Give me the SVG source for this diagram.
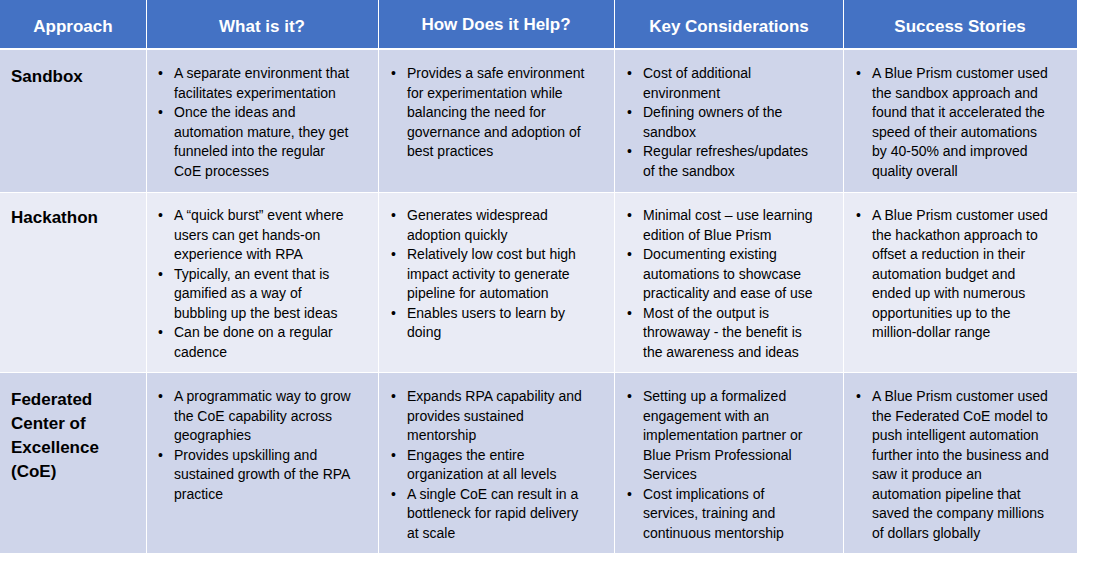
<svg xmlns="http://www.w3.org/2000/svg" width="1098" height="564" viewBox="0 0 1098 564">
<style>
.h{fill:#4472C4}.d{fill:#CFD5EA}.l{fill:#E9EBF5}
.ht{font-family:"Liberation Sans",Arial,sans-serif;font-size:17px;font-weight:bold;fill:#fff;text-anchor:middle}
.rt{font-family:"Liberation Sans",Arial,sans-serif;font-size:17px;font-weight:bold;fill:#000}
.t{font-family:"Liberation Sans",Arial,sans-serif;font-size:14px;fill:#000}
</style>
<rect width="1098" height="564" fill="#fff"/>
<g id="header">
<rect class="h" x="0" y="0" width="146" height="48"/>
<rect class="h" x="147" y="0" width="231" height="48"/>
<rect class="h" x="379" y="0" width="235" height="48"/>
<rect class="h" x="615" y="0" width="228" height="48"/>
<rect class="h" x="844" y="0" width="233" height="48"/>
<text class="ht" x="73" y="32">Approach</text>
<text class="ht" x="262" y="32">What is it?</text>
<text class="ht" x="496" y="30">How Does it Help?</text>
<text class="ht" x="729" y="32">Key Considerations</text>
<text class="ht" x="960" y="32">Success Stories</text>
</g>
<g id="row-sandbox">
<rect class="d" x="0" y="50" width="146" height="142"/>
<rect class="d" x="147" y="50" width="231" height="142"/>
<rect class="d" x="379" y="50" width="235" height="142"/>
<rect class="d" x="615" y="50" width="228" height="142"/>
<rect class="d" x="844" y="50" width="233" height="142"/>
<text class="rt" x="11" y="82">Sandbox</text>
<text class="t"><tspan x="158" y="78">•</tspan><tspan x="174" y="78">A separate environment that</tspan><tspan x="174" y="97.5">facilitates experimentation</tspan><tspan x="158" y="117">•</tspan><tspan x="174" y="117">Once the ideas and</tspan><tspan x="174" y="136.5">automation mature, they get</tspan><tspan x="174" y="156">funneled into the regular</tspan><tspan x="174" y="175.5">CoE processes</tspan></text>
<text class="t"><tspan x="391" y="78">•</tspan><tspan x="407" y="78">Provides a safe environment</tspan><tspan x="407" y="97.5">for experimentation while</tspan><tspan x="407" y="117">balancing the need for</tspan><tspan x="407" y="136.5">governance and adoption of</tspan><tspan x="407" y="156">best practices</tspan></text>
<text class="t"><tspan x="627" y="78">•</tspan><tspan x="643" y="78">Cost of additional</tspan><tspan x="643" y="97.5">environment</tspan><tspan x="627" y="117">•</tspan><tspan x="643" y="117">Defining owners of the</tspan><tspan x="643" y="136.5">sandbox</tspan><tspan x="627" y="156">•</tspan><tspan x="643" y="156">Regular refreshes/updates</tspan><tspan x="643" y="175.5">of the sandbox</tspan></text>
<text class="t"><tspan x="856" y="78">•</tspan><tspan x="872" y="78">A Blue Prism customer used</tspan><tspan x="872" y="97.5">the sandbox approach and</tspan><tspan x="872" y="117">found that it accelerated the</tspan><tspan x="872" y="136.5">speed of their automations</tspan><tspan x="872" y="156">by 40-50% and improved</tspan><tspan x="872" y="175.5">quality overall</tspan></text>
</g>
<g id="row-hackathon">
<rect class="l" x="0" y="193" width="146" height="179"/>
<rect class="l" x="147" y="193" width="231" height="179"/>
<rect class="l" x="379" y="193" width="235" height="179"/>
<rect class="l" x="615" y="193" width="228" height="179"/>
<rect class="l" x="844" y="193" width="233" height="179"/>
<text class="rt" x="11" y="223">Hackathon</text>
<text class="t"><tspan x="158" y="220">•</tspan><tspan x="174" y="220">A “quick burst” event  where</tspan><tspan x="174" y="239.5">users can get hands-on</tspan><tspan x="174" y="259">experience with RPA</tspan><tspan x="158" y="278.5">•</tspan><tspan x="174" y="278.5">Typically, an event that is</tspan><tspan x="174" y="298">gamified as a way of</tspan><tspan x="174" y="317.5">bubbling up the best  ideas</tspan><tspan x="158" y="337">•</tspan><tspan x="174" y="337">Can be done on a regular</tspan><tspan x="174" y="356.5">cadence</tspan></text>
<text class="t"><tspan x="391" y="220">•</tspan><tspan x="407" y="220">Generates widespread</tspan><tspan x="407" y="239.5">adoption quickly</tspan><tspan x="391" y="259">•</tspan><tspan x="407" y="259">Relatively low cost but high</tspan><tspan x="407" y="278.5">impact activity to generate</tspan><tspan x="407" y="298">pipeline for automation</tspan><tspan x="391" y="317.5">•</tspan><tspan x="407" y="317.5">Enables users to learn by</tspan><tspan x="407" y="337">doing</tspan></text>
<text class="t"><tspan x="627" y="220">•</tspan><tspan x="643" y="220">Minimal cost  – use learning</tspan><tspan x="643" y="239.5">edition of  Blue Prism</tspan><tspan x="627" y="259">•</tspan><tspan x="643" y="259">Documenting existing</tspan><tspan x="643" y="278.5">automations  to showcase</tspan><tspan x="643" y="298">practicality and ease of use</tspan><tspan x="627" y="317.5">•</tspan><tspan x="643" y="317.5">Most of the output is</tspan><tspan x="643" y="337">throwaway - the benefit is</tspan><tspan x="643" y="356.5">the awareness and ideas</tspan></text>
<text class="t"><tspan x="856" y="220">•</tspan><tspan x="872" y="220">A Blue Prism customer used</tspan><tspan x="872" y="239.5">the hackathon approach to</tspan><tspan x="872" y="259">offset a reduction in their</tspan><tspan x="872" y="278.5">automation budget and</tspan><tspan x="872" y="298">ended up with numerous</tspan><tspan x="872" y="317.5">opportunities up to the</tspan><tspan x="872" y="337">million-dollar range</tspan></text>
</g>
<g id="row-federated">
<rect class="d" x="0" y="373" width="146" height="180"/>
<rect class="d" x="147" y="373" width="231" height="180"/>
<rect class="d" x="379" y="373" width="235" height="180"/>
<rect class="d" x="615" y="373" width="228" height="180"/>
<rect class="d" x="844" y="373" width="233" height="180"/>
<text class="rt"><tspan x="11" y="405">Federated</tspan><tspan x="11" y="429">Center of</tspan><tspan x="11" y="453">Excellence</tspan><tspan x="11" y="477">(CoE)</tspan></text>
<text class="t"><tspan x="158" y="401">•</tspan><tspan x="174" y="401">A programmatic way to grow</tspan><tspan x="174" y="420.5">the CoE  capability across</tspan><tspan x="174" y="440">geographies</tspan><tspan x="158" y="459.5">•</tspan><tspan x="174" y="459.5">Provides upskilling and</tspan><tspan x="174" y="479">sustained growth of the RPA</tspan><tspan x="174" y="498.5">practice</tspan></text>
<text class="t"><tspan x="391" y="401">•</tspan><tspan x="407" y="401">Expands RPA capability and</tspan><tspan x="407" y="420.5">provides sustained</tspan><tspan x="407" y="440">mentorship</tspan><tspan x="391" y="459.5">•</tspan><tspan x="407" y="459.5">Engages the entire</tspan><tspan x="407" y="479">organization at all levels</tspan><tspan x="391" y="498.5">•</tspan><tspan x="407" y="498.5">A single CoE can result in a</tspan><tspan x="407" y="518">bottleneck for rapid delivery</tspan><tspan x="407" y="537.5">at scale</tspan></text>
<text class="t"><tspan x="627" y="401">•</tspan><tspan x="643" y="401">Setting up a formalized</tspan><tspan x="643" y="420.5">engagement with  an</tspan><tspan x="643" y="440">implementation  partner or</tspan><tspan x="643" y="459.5">Blue Prism Professional</tspan><tspan x="643" y="479">Services</tspan><tspan x="627" y="498.5">•</tspan><tspan x="643" y="498.5">Cost implications of</tspan><tspan x="643" y="518">services, training and</tspan><tspan x="643" y="537.5">continuous  mentorship</tspan></text>
<text class="t"><tspan x="856" y="401">•</tspan><tspan x="872" y="401">A Blue Prism customer used</tspan><tspan x="872" y="420.5">the Federated CoE model to</tspan><tspan x="872" y="440">push intelligent automation</tspan><tspan x="872" y="459.5">further into the business and</tspan><tspan x="872" y="479">saw it produce an</tspan><tspan x="872" y="498.5">automation pipeline that</tspan><tspan x="872" y="518">saved the company millions</tspan><tspan x="872" y="537.5">of dollars globally</tspan></text>
</g>
</svg>
